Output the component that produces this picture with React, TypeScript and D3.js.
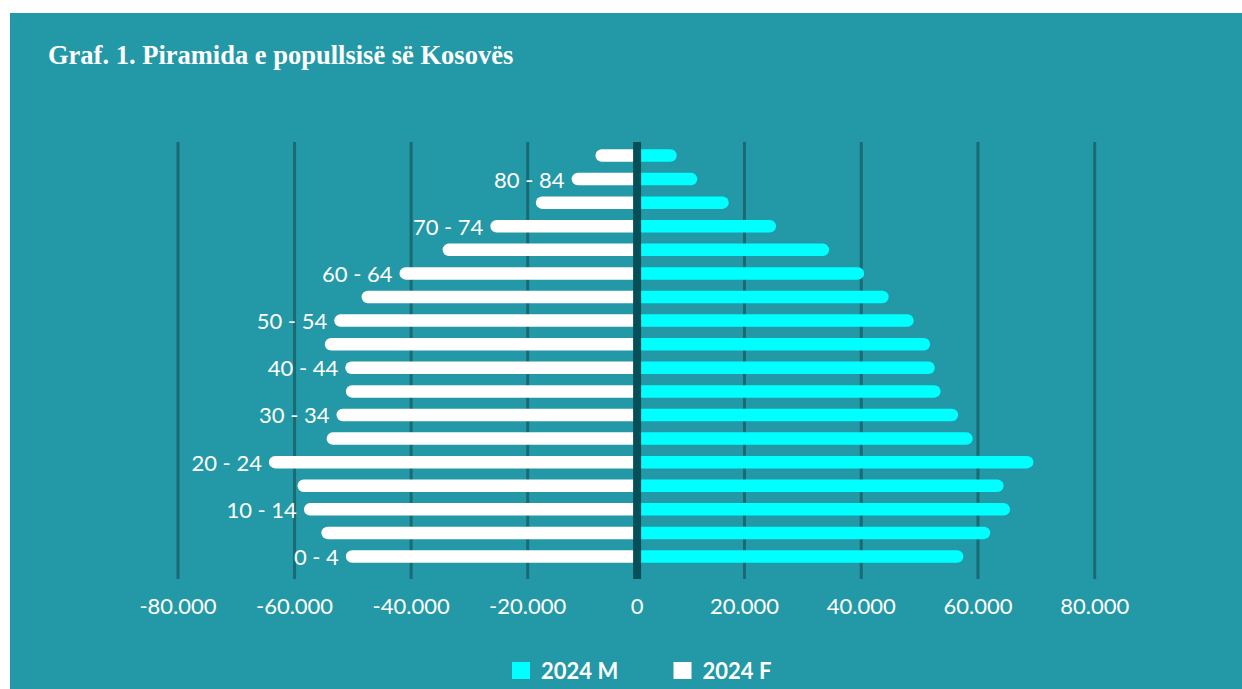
import React from "react";
import * as d3 from "d3";

const title = "Graf. 1. Piramida e popullsisë së Kosovës";

const ageGroups = [
  "0 - 4", "5 - 9", "10 - 14", "15 - 19", "20 - 24", "25 - 29", "30 - 34",
  "35 - 39", "40 - 44", "45 - 49", "50 - 54", "55 - 59", "60 - 64",
  "65 - 69", "70 - 74", "75 - 79", "80 - 84", "85+",
];

// 2024 M (right side)
const male = [
  57500, 62100, 65500, 64400, 69500, 59100, 56600, 53600, 52600, 51800,
  49000, 44700, 40500, 34500, 25400, 17100, 11300, 7500,
];

// 2024 F (left side)
const female = [
  51200, 55400, 58400, 59500, 64400, 54500, 52800, 51200, 51300, 54800,
  53200, 48500, 42000, 34600, 26400, 18500, 11900, 7500,
];

const xTicks = [-80000, -60000, -40000, -20000, 0, 20000, 40000, 60000, 80000];
const legendItems = [
  { name: "2024 M", color: "#00ffff" },
  { name: "2024 F", color: "#ffffff" },
];

const W = 1242;
const H = 689;
const bg = "#2399a8";
const gridColor = "#1a6a73";
const axisColor = "#064f58";
const sans = "Lato, 'Open Sans', sans-serif";

const fmt = (v: number) => {
  const s = d3.format(",")(Math.abs(v)).replace(/,/g, ".");
  return v < 0 ? "-" + s : s;
};

// one-side rounded bar
const bar = (x0: number, x1: number, yc: number, h: number, r: number, roundRight: boolean) => {
  const top = yc - h / 2;
  const bot = yc + h / 2;
  if (roundRight) {
    return `M${x0},${top}H${x1 - r}A${r},${r} 0 0 1 ${x1},${top + r}V${bot - r}A${r},${r} 0 0 1 ${x1 - r},${bot}H${x0}Z`;
  }
  return `M${x1},${top}H${x0 + r}A${r},${r} 0 0 0 ${x0},${top + r}V${bot - r}A${r},${r} 0 0 0 ${x0 + r},${bot}H${x1}Z`;
};

export default function App() {
  const x = d3
    .scaleLinear()
    .domain([-80000, -20000, 20000, 80000])
    .range([178, 527.7, 744.5, 1094.7]);

  const y = d3.scalePoint<string>().domain(ageGroups).range([556.5, 155.5]);

  const gridTop = 142;
  const gridBottom = 579;
  const barH = 12.5;
  const x0 = x(0) + 1;

  return (
    <svg
      width={W}
      height={H}
      style={{ position: "absolute", left: 0, top: 0, display: "block" }}
    >
      <rect x={0} y={0} width={W} height={H} fill="#ffffff" />
      <rect x={10} y={13} width={W - 10} height={H - 13} fill={bg} />

      <text
        x={48}
        y={64}
        fill="#ffffff"
        fontFamily="'Liberation Serif', 'Times New Roman', serif"
        fontWeight="bold"
        fontSize={26.5}
      >
        {title}
      </text>

      {/* gridlines */}
      {xTicks
        .filter((t) => t !== 0)
        .map((t) => (
          <line
            key={t}
            x1={x(t)}
            x2={x(t)}
            y1={gridTop}
            y2={gridBottom}
            stroke={gridColor}
            strokeWidth={3}
          />
        ))}

      {/* female bars */}
      {ageGroups.map((g, i) => (
        <path
          key={"f" + g}
          d={bar(x(-female[i]), x0, y(g)!, barH, barH / 2, false)}
          fill="#ffffff"
        />
      ))}

      {/* male bars */}
      {ageGroups.map((g, i) => (
        <path
          key={"m" + g}
          d={bar(x0, x(male[i]), y(g)!, barH, barH / 2, true)}
          fill="#00ffff"
        />
      ))}

      {/* zero axis */}
      <line
        x1={x0}
        x2={x0}
        y1={gridTop}
        y2={gridBottom}
        stroke={axisColor}
        strokeWidth={8}
      />

      {/* age labels */}
      {ageGroups.map((g, i) =>
        i % 2 === 0 ? (
          <text
            key={"l" + g}
            x={x(-female[i]) - 7}
            y={y(g)! + 8.5}
            textAnchor="end"
            fill="#ffffff"
            fontFamily={sans}
            fontSize={22}
          >
            {g}
          </text>
        ) : null
      )}

      {/* x tick labels */}
      {xTicks.map((t) => (
        <text
          key={"t" + t}
          x={t === 0 ? x0 : x(t)}
          y={613.5}
          textAnchor="middle"
          fill="#ffffff"
          fontFamily={sans}
          fontSize={22}
        >
          {fmt(t)}
        </text>
      ))}

      {/* legend */}
      {legendItems.map((d, i) => {
        const lx = 512 + i * 161.5;
        return (
          <g key={d.name} transform={`translate(${lx},662)`}>
            <rect x={0} y={0} width={18} height={17} fill={d.color} />
            <text
              x={29}
              y={17}
              fill="#ffffff"
              fontFamily={sans}
              fontWeight="bold"
              fontSize={22}
            >
              {d.name}
            </text>
          </g>
        );
      })}
    </svg>
  );
}
